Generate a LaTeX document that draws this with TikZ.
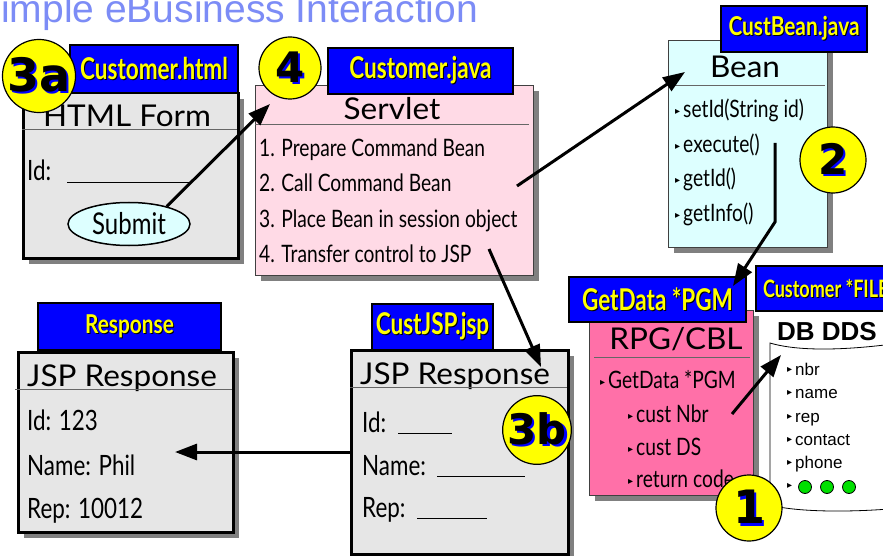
\documentclass[tikz,border=0pt]{standalone}
\usepackage{fontspec}
\setmainfont{Lato}
\newfontfamily\gillfont[FakeStretch=0.8]{Lato}
\newfontfamily\titlefamily[FakeStretch=1.05]{Lato}
\newfontfamily\tabfamily[FakeStretch=0.75]{Lato}
\newfontfamily\widetabfamily[FakeStretch=0.8]{Lato}
\newfontfamily\arialfont{Liberation Sans}
\newfontfamily\symfamily{DejaVu Sans}
\usepackage{tikz}
\usetikzlibrary{arrows.meta,shadows,shapes.geometric}
\definecolor{BoxGray}{HTML}{E6E6E6}
\definecolor{ServletPink}{HTML}{FFDAE6}
\definecolor{BeanCyan}{HTML}{DDFFFF}
\definecolor{RpgPink}{HTML}{FF70A8}
\definecolor{TabBlue}{HTML}{0000FF}
\definecolor{TabYellow}{HTML}{FFFF00}
\definecolor{StepYellow}{HTML}{FFFF00}
\definecolor{ShadowGray}{HTML}{808080}
\definecolor{TitleBlue}{HTML}{7C8CF6}
\definecolor{DotGreen}{HTML}{00E000}

\newcommand{\itemfont}{\gillfont\fontsize{24}{28}\selectfont}
\newcommand{\formfont}{\gillfont\fontsize{28}{32}\selectfont}
\newcommand{\cardfont}{\titlefamily\fontsize{30}{34}\selectfont}
\newcommand{\stepfont}{\symfamily\bfseries\fontsize{42}{42}\selectfont}
\newcommand{\itembullet}{\raisebox{3pt}{\symfamily\fontsize{10}{10}\selectfont ▸}\hspace{3pt}}
\newcommand{\fillin}[1]{\rule[-2pt]{#1}{1pt}}
\newcommand{\tabtext}[1]{\rlap{\kern1pt\raisebox{-1pt}{\color{black}#1}}#1}
\newcommand{\stepnum}[1]{\rlap{\kern2.5pt\raisebox{-2.5pt}{\color{TabBlue}#1}}#1}

\tikzset{
    card/.style={anchor=north west, inner sep=0pt, draw=black!75, line width=0.8pt,
        drop shadow={shadow xshift=6pt, shadow yshift=-6pt, fill=ShadowGray, opacity=1}},
    graycard/.style={card, draw=black, line width=2.5pt, fill=BoxGray},
    tabcard/.style={anchor=north west, inner sep=0pt, draw=black, line width=2pt,
        fill=TabBlue, text=TabYellow, font=\tabfamily\bfseries\fontsize{30}{30}\selectfont},
    smalltab/.style={font=\widetabfamily\bfseries\fontsize{26}{26}\selectfont},
    cardtitle/.style={anchor=base, inner sep=0pt, font=\cardfont},
    cardtext/.style={anchor=base west, inner sep=0pt, font=\itemfont},
    formtext/.style={anchor=base west, inner sep=0pt, font=\formfont},
    ddstext/.style={anchor=base west, inner sep=0pt, font=\arialfont\fontsize{17}{17}\selectfont},
    ddsdot/.style={circle, draw=black, line width=0.8pt, fill=DotGreen, minimum size=13pt, inner sep=0pt},
    divider/.style={draw=black!60, line width=0.8pt},
    stepcircle/.style={circle, draw=black, line width=1.2pt, fill=StepYellow, inner sep=0pt, font=\stepfont},
    flow/.style={line width=3pt, -{Triangle[length=22pt,width=16pt]}}
}

\begin{document}
\begin{tikzpicture}[x=1pt,y=-1pt]
    \path[use as bounding box, fill=white] (0,0) rectangle (883,556);
    \node[anchor=base west, inner sep=0pt, text=TitleBlue,
        font=\arialfont\fontsize{39}{39}\selectfont] (pagetitle) at (1,23) {imple eBusiness Interaction};

    % HTML form
    \node[graycard, minimum width=215pt, minimum height=165pt] (html) at (22,92) {};
    \node[tabcard, minimum width=168pt, minimum height=48pt] (htmltab) at (69,44) {\tabtext{Customer.html}};
    \node[cardtitle] (htmltitle) at (127,127) {HTML Form};
    \draw[divider] (22,129) -- (237,129);
    \node[formtext] (htmlid) at (27,181) {\makebox[40pt][l]{Id:}\fillin{125pt}};
    \node[ellipse, draw=black, line width=1.5pt, fill=BeanCyan, minimum width=122pt,
        minimum height=43pt, inner sep=0pt, font=\gillfont\fontsize{30}{30}\selectfont] (submit) at (129,224) {Submit};

    % servlet
    \node[card, fill=ServletPink, minimum width=278pt, minimum height=190pt] (servlet) at (255,85) {};
    \node[tabcard, minimum width=185pt, minimum height=46pt] (servlettab) at (327,47) {\tabtext{Customer.java}};
    \node[cardtitle] (servlettitle) at (392,120) {Servlet};
    \draw[divider] (255,124) -- (529,124);
    \node[cardtext] (prepare) at (259,157) {1. Prepare Command Bean};
    \node[cardtext] (callbean) at (259,192) {2. Call Command Bean};
    \node[cardtext] (placebean) at (259,227) {3. Place Bean in session object};
    \node[cardtext] (transfer) at (259,262) {4. Transfer control to JSP};

    % bean
    \node[card, fill=BeanCyan, minimum width=159pt, minimum height=207pt] (bean) at (668,40) {};
    \node[tabcard, smalltab, minimum width=146pt, minimum height=46pt] (beantab) at (720,5) {\tabtext{CustBean.java}};
    \node[cardtitle] (beantitle) at (745,78) {Bean};
    \draw[divider] (668,85) -- (825,85);
    \node[cardtext] (setid) at (675,118) {\itembullet setId(String id)};
    \node[cardtext] (execute) at (675,153) {\itembullet execute()};
    \node[cardtext] (getid) at (675,187) {\itembullet getId()};
    \node[cardtext] (getinfo) at (675,222) {\itembullet getInfo()};

    % rpg program
    \node[card, fill=RpgPink, minimum width=164pt, minimum height=185pt] (rpg) at (589,310) {};
    \node[tabcard, minimum width=177pt, minimum height=45pt] (rpgtab) at (568,276) {\tabtext{GetData *PGM}};
    \node[cardtitle] (rpgtitle) at (676,349) {RPG/CBL};
    \draw[divider] (594,357) -- (750,357);
    \node[cardtext] (getdata) at (600,388) {\itembullet GetData *PGM};
    \node[cardtext] (custnbr) at (628,422) {\itembullet cust Nbr};
    \node[cardtext] (custds) at (628,455) {\itembullet cust DS};
    \node[cardtext] (retcode) at (628,487) {\itembullet return code};

    % file
    \node[tabcard, inner xsep=7pt, minimum height=45pt,
        font=\tabfamily\bfseries\fontsize{24}{24}\selectfont] (filetab) at (755,265) {\tabtext{Customer *FILE}};
    \node[anchor=base, inner sep=0pt, font=\arialfont\bfseries\fontsize{26}{26}\selectfont] (ddstitle) at (827,340) {DB DDS};
    \draw[fill=white, line width=0.8pt] (770,343) .. controls (800,352) and (850,350) .. (900,343)
        -- (900,508) .. controls (860,512) and (800,513) .. (770,505) -- cycle;
    \node[ddstext] (fnbr) at (787,375) {\itembullet nbr};
    \node[ddstext] (fname) at (787,398) {\itembullet name};
    \node[ddstext] (frep) at (787,422) {\itembullet rep};
    \node[ddstext] (fcontact) at (787,445) {\itembullet contact};
    \node[ddstext] (fphone) at (787,468) {\itembullet phone};
    \node[ddstext] (fmore) at (787,491) {\itembullet};
    \node[ddsdot] (dot1) at (805,487) {};
    \node[ddsdot] (dot2) at (827,487) {};
    \node[ddsdot] (dot3) at (849,487) {};

    % response page
    \node[graycard, minimum width=215pt, minimum height=180pt] (resp) at (17,351) {};
    \node[tabcard, smalltab, minimum width=183pt, minimum height=47pt] (resptab) at (37,302) {\tabtext{Response}};
    \node[cardtitle, anchor=base west] (resptitle) at (27,386) {JSP Response};
    \draw[divider] (15,389) -- (232,389);
    \node[formtext] (respid) at (27,430) {Id: 123};
    \node[formtext] (respname) at (27,475) {Name: Phil};
    \node[formtext] (resprep) at (27,518) {Rep: 10012};

    % jsp
    \node[graycard, minimum width=217pt, minimum height=204pt] (jsp) at (350,349) {};
    \node[tabcard, minimum width=121pt, minimum height=46pt] (jsptab) at (371,303) {\tabtext{CustJSP.jsp}};
    \node[cardtitle, anchor=base west] (jsptitle) at (360,384) {JSP Response};
    \draw[divider] (350,387) -- (567,387);
    \node[formtext] (jspid) at (362,432) {\makebox[36pt][l]{Id:}\fillin{54pt}};
    \node[formtext] (jspname) at (362,475) {\makebox[75pt][l]{Name:}\fillin{88pt}};
    \node[formtext] (jsprep) at (362,517) {\makebox[55pt][l]{Rep:}\fillin{70pt}};

    % arrows
    \coordinate (servletin) at (270,104);
    \coordinate (servletout) at (517,186);
    \coordinate (beanin) at (685,72);
    \coordinate (beanout) at (775,143);
    \coordinate (beanbend) at (775,222);
    \coordinate (rpgin) at (733,286);
    \coordinate (servletjsp) at (489,249);
    \coordinate (jspin) at (541,367);
    \coordinate (rpgout) at (732,414);
    \coordinate (ddsin) at (781,355);
    \coordinate (respin) at (175,452);
    \draw[flow] (submit.25) -- (servletin);
    \draw[flow] (servletout) -- (beanin);
    \draw[flow] (beanout) -- (beanbend) -- (rpgin);
    \draw[flow] (servletjsp) -- (jspin);
    \draw[flow] (rpgout) -- (ddsin);
    \draw[flow] (jsp.west |- respin) -- (respin);

    % step numbers
    \node[stepcircle, minimum size=62pt, font=\stepfont\fontsize{46}{46}\selectfont] (step3a) at (39,76) {\stepnum{3a}};
    \node[stepcircle, minimum size=62pt] (step4) at (290,68) {\stepnum{4}};
    \node[stepcircle, minimum size=66pt] (step2) at (833,160) {\stepnum{2}};
    \node[stepcircle, minimum size=66pt, font=\stepfont\fontsize{46}{46}\selectfont] (step1) at (749,508) {\stepnum{1}};
    \node[stepcircle, minimum size=60pt] (step3b) at (537,430) {\stepnum{3b}};
\end{tikzpicture}
\end{document}
